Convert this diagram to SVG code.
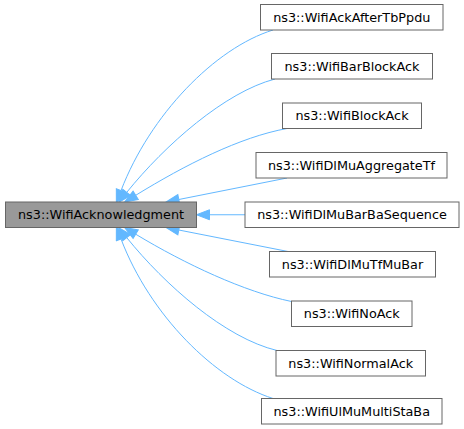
<svg xmlns="http://www.w3.org/2000/svg" width="464" height="429" viewBox="0 0 464 429">
<style>
.node rect{fill:#ffffff;stroke:#666666;stroke-width:1}
#n0 rect{fill:#999999;stroke:#666666}
text{font-family:"DejaVu Sans","Liberation Sans",sans-serif;font-size:12.8px;fill:#000000;text-anchor:middle}
.edge{fill:none;stroke:#63b8ff;stroke-width:1}
</style>
<defs>
<marker id="ah" markerUnits="userSpaceOnUse" markerWidth="16" markerHeight="12" refX="0" refY="0" viewBox="0 -6 14 12" orient="auto">
<path d="M0,-5 L13,0 L0,5 z" fill="#63b8ff" stroke="#63b8ff" stroke-width="1"/>
</marker>
</defs>
<rect width="464" height="429" fill="#ffffff"/>
<g id="edges">
<path class="edge" marker-end="url(#ah)" d="M273,30 C215,48 150,115 121,190.6"/>
<path class="edge" marker-end="url(#ah)" d="M275,79 C225,92 165,145 126.7,192.4"/>
<path class="edge" marker-end="url(#ah)" d="M287,128.5 C240,137 185,165 135.7,195.3"/>
<path class="edge" marker-end="url(#ah)" d="M287,178 L178.8,199.5"/>
<path class="edge" marker-end="url(#ah)" d="M245,214.75 L209.5,214.75"/>
<path class="edge" marker-end="url(#ah)" d="M288,251.5 L178.8,230"/>
<path class="edge" marker-end="url(#ah)" d="M291.5,301.5 C245,292 185,264 135.7,234.2"/>
<path class="edge" marker-end="url(#ah)" d="M277,350.5 C225,338 165,285 126.7,237.6"/>
<path class="edge" marker-end="url(#ah)" d="M273,398.5 C215,380 150,315 121,239"/>
</g>
<g id="n0" class="node"><rect x="5.5" y="202" width="191" height="25.5"/><text x="101" y="219.3">ns3::WifiAcknowledgment</text></g>
<g id="n1" class="node"><rect x="260.5" y="4.5" width="182.5" height="25.5"/><text x="351.75" y="21.8">ns3::WifiAckAfterTbPpdu</text></g>
<g id="n2" class="node"><rect x="271.5" y="53.5" width="161" height="25.5"/><text x="352" y="70.8">ns3::WifiBarBlockAck</text></g>
<g id="n3" class="node"><rect x="282.5" y="103" width="139" height="25.5"/><text x="352" y="120.3">ns3::WifiBlockAck</text></g>
<g id="n4" class="node"><rect x="256" y="152.5" width="191" height="25.5"/><text x="351.5" y="169.8">ns3::WifiDlMuAggregateTf</text></g>
<g id="n5" class="node"><rect x="245" y="202" width="214" height="25.5"/><text x="352" y="219.3">ns3::WifiDlMuBarBaSequence</text></g>
<g id="n6" class="node"><rect x="269.5" y="251.5" width="166" height="25.5"/><text x="352.5" y="268.8">ns3::WifiDlMuTfMuBar</text></g>
<g id="n7" class="node"><rect x="291.5" y="301" width="120.5" height="25.5"/><text x="351.75" y="318.3">ns3::WifiNoAck</text></g>
<g id="n8" class="node"><rect x="276" y="350.5" width="149.5" height="25.5"/><text x="350.75" y="367.8">ns3::WifiNormalAck</text></g>
<g id="n9" class="node"><rect x="261.5" y="398.5" width="180.5" height="25.5"/><text x="351.75" y="415.8">ns3::WifiUlMuMultiStaBa</text></g>
</svg>
